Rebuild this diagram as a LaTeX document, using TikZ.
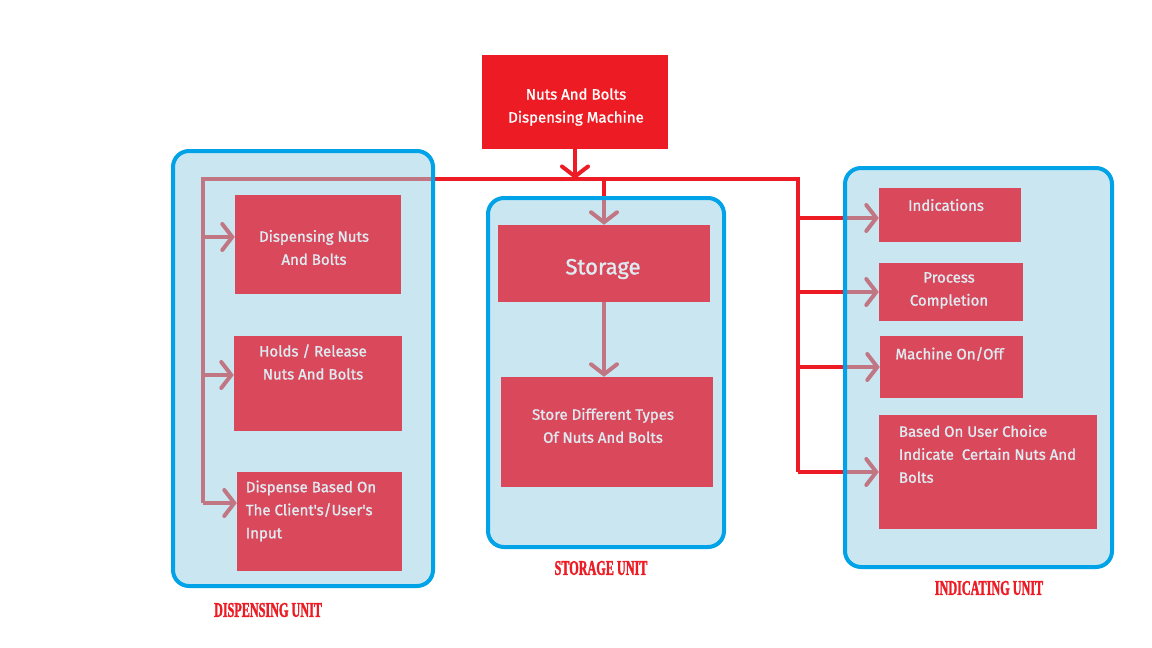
\documentclass[tikz,border=0pt]{standalone}
\usepackage{fontspec}
\setmainfont{Fira Sans}
\newfontfamily\partfont[FakeBold=1.2]{Fira Sans}
\newfontfamily\unitfont[FakeStretch=0.58, FakeBold=1.5]{Liberation Serif}
\usetikzlibrary{arrows.meta}
\pgfdeclarelayer{background}
\pgfsetlayers{background,main}
\definecolor{machred}{RGB}{237,28,36}
\definecolor{unitblue}{RGB}{0,162,232}
\definecolor{unitfill}{RGB}{150,208,228}
\definecolor{boxred}{RGB}{218,72,92}
\definecolor{boxtext}{RGB}{222,236,242}
\tikzset{
  unit/.style={draw=unitblue, line width=4pt, rounded corners=16pt, fill=unitfill, fill opacity=.5, draw opacity=1, inner sep=0pt},
  part/.style={fill=boxred, inner sep=0pt},
  parttext/.style={text=boxtext, font=\partfont\fontsize{15}{23}\selectfont, align=center, inner sep=0pt},
  wire/.style={draw=machred, line width=4pt},
  tip/.style={-{Straight Barb[length=10pt,width=26pt,line cap=round]}},
  unitname/.style={text=machred, font=\unitfont\bfseries\fontsize{21}{21}\selectfont}
}
\begin{document}
\begin{tikzpicture}[x=1pt,y=-1pt]
        \useasboundingbox (0,0) rectangle (1152,648);

        \node[unit, minimum width=260pt, minimum height=435pt] (dunit) at (303,368.5) {};
        \node[unit, minimum width=236pt, minimum height=349pt] (sunit) at (606,372.5) {};
        \node[unit, minimum width=267pt, minimum height=399pt] (iunit) at (978.5,367.5) {};

        \node[fill=machred, inner sep=0pt, minimum width=186pt, minimum height=94pt,
              label={[parttext, text=white, xshift=1pt, yshift=-5pt]center:Nuts And Bolts\\ Dispensing Machine}] (title) at (575,102) {};

        \begin{scope}[every node/.style={part}]
          \node[minimum width=166pt, minimum height=99pt,
                label={[parttext, xshift=-4pt, yshift=-3pt]center:Dispensing Nuts\\And Bolts}] (d1) at (318,244.5) {};
          \node[minimum width=168pt, minimum height=95pt,
                label={[parttext, xshift=-5pt, yshift=21.5pt]center:Holds / Release\\Nuts And Bolts}] (d2) at (318,383.5) {};
          \node[minimum width=165pt, minimum height=99pt,
                label={[parttext, align=left, xshift=-8.5pt, yshift=10.5pt]center:Dispense Based On\\ The Client's/User's\\ Input}] (d3) at (319.5,521.5) {};
          \node[minimum width=212pt, minimum height=77pt,
                label={[parttext, font=\partfont\fontsize{22}{25}\selectfont, xshift=-1pt, yshift=-5.5pt]center:Storage}] (stor) at (604,263.5) {};
          \node[minimum width=212pt, minimum height=110pt,
                label={[parttext, xshift=-4pt, yshift=6.5pt]center:Store Different Types\\Of Nuts And Bolts}] (s2) at (607,432) {};
          \node[minimum width=142pt, minimum height=54pt,
                label={[parttext, xshift=-4pt, yshift=10pt]center:Indications}] (i1) at (950,215) {};
          \node[minimum width=144pt, minimum height=58pt,
                label={[parttext, xshift=-2pt, yshift=1.5pt]center:Process\\ Completion}] (i2) at (951,292) {};
          \node[minimum width=143pt, minimum height=62pt,
                label={[parttext, xshift=-2pt, yshift=13pt]center:Machine On/Off}] (i3) at (951.5,367) {};
          \node[minimum width=218pt, minimum height=114pt,
                label={[parttext, align=left, xshift=-0.5pt, yshift=18pt]center:Based On User Choice\\Indicate~ Certain Nuts And\\Bolts}] (i4) at (988,472) {};
        \end{scope}

        \node[unitname] (dname) at (268,610) {DISPENSING UNIT};
        \node[unitname] (sname) at (601,568) {STORAGE UNIT};
        \node[unitname] (iname) at (989,588) {INDICATING UNIT};

        \coordinate (dtop) at (203,179);
        \coordinate (dbot) at (203,503);
        \coordinate (itop) at (798,179);
        \coordinate (ibot) at (798,472);
        \coordinate (d1in) at ([yshift=7.5pt]d1.west);
        \coordinate (d2in) at ([yshift=8.5pt]d2.west);
        \coordinate (d3in) at ([yshift=18.5pt]d3.west);
        \coordinate (i1in) at ([yshift=-3pt]i1.west);

        \begin{pgfonlayer}{background}
          \draw[wire] (dbot) -- (dtop) -- (itop) -- (ibot);
          \draw[wire, tip] (title) -- (title |- dtop);
          \draw[wire, tip] (stor.north |- dtop) -- (stor.north);
          \draw[wire, tip] (stor) -- (stor |- s2.north);
          \draw[wire, tip] (dtop |- d1in) -- (d1in);
          \draw[wire, tip] (dtop |- d2in) -- (d2in);
          \draw[wire, tip] (dtop |- d3in) -- (d3in);
          \draw[wire, tip] (itop |- i1in) -- (i1in);
          \draw[wire, tip] (itop |- i2.west) -- (i2.west);
          \draw[wire, tip] (itop |- i3.west) -- (i3.west);
          \draw[wire, tip] (itop |- i4.west) -- (i4.west);
        \end{pgfonlayer}

      \end{tikzpicture}
\end{document}
